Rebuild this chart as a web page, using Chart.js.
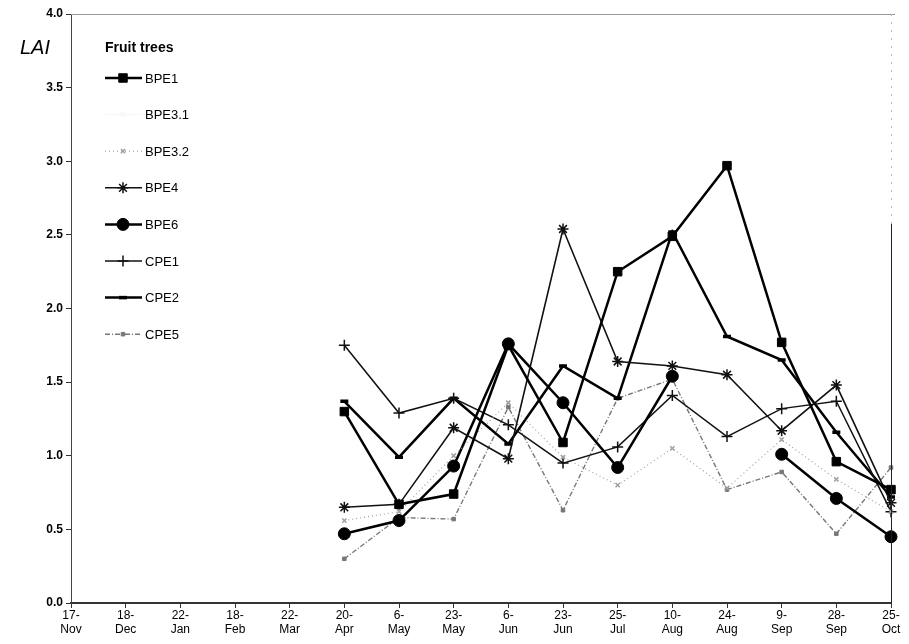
<!DOCTYPE html>
<html>
<head>
<meta charset="utf-8">
<script src="https://cdn.jsdelivr.net/npm/chart.js@4.4.1/dist/chart.umd.min.js"></script>
<style>
  body { margin: 0; background: #fff; }
  #wrap { width: 909px; height: 644px; }
</style>
</head>
<body>
<div id="wrap"><canvas id="lai" width="909" height="644"></canvas></div>
<script>
// sampling dates (x categories)
var dates = [
	["17-", "Nov"], ["18-", "Dec"], ["22-", "Jan"], ["18-", "Feb"], ["22-", "Mar"],
	["20-", "Apr"], ["6-", "May"], ["23-", "May"], ["6-", "Jun"], ["23-", "Jun"],
	["25-", "Jul"], ["10-", "Aug"], ["24-", "Aug"], ["9-", "Sep"], ["28-", "Sep"], ["25-", "Oct"]
];
// no measurements before 20-Apr
var noData = [null, null, null, null, null];

// LAI values, 20-Apr .. 25-Oct
var BPE1 = [1.30, 0.67, 0.74, 1.75, 1.09, 2.25, 2.49, 2.97, 1.77, 0.96, 0.77];
var BPE3_1 = [];
var BPE3_2 = [0.56, 0.62, 1.00, 1.36, 0.99, 0.80, 1.05, 0.78, 1.11, 0.84, 0.62];
var BPE4 = [0.65, 0.67, 1.19, 0.98, 2.54, 1.64, 1.61, 1.55, 1.17, 1.48, 0.68];
var BPE6 = [0.47, 0.56, 0.93, 1.76, 1.36, 0.92, 1.54, null, 1.01, 0.71, 0.45];
var CPE1 = [1.75, 1.29, 1.39, 1.21, 0.95, 1.06, 1.41, 1.13, 1.32, 1.37, 0.62];
var CPE2 = [1.37, 0.99, 1.39, 1.08, 1.61, 1.39, 2.52, 1.81, 1.65, 1.16, 0.72];
var CPE5 = [0.30, 0.58, 0.57, 1.33, 0.63, 1.39, 1.52, 0.77, 0.89, 0.47, 0.92];

var yTicks = [0, 0.5, 1, 1.5, 2, 2.5, 3, 3.5, 4];

function serie(label, vals, color, width, dash, pstyle, prad) {
	return {
		label: label,
		data: vals.length ? noData.concat(vals) : [],
		borderColor: color,
		backgroundColor: color,
		borderWidth: width,
		borderDash: dash,
		pointStyle: pstyle,
		pointRadius: prad,
		pointBorderWidth: pstyle == "circle" || pstyle == "rect" ? 1 : 1.5,
		tension: 0,
		spanGaps: false,
		fill: false
	};
}

var datasets = [
	serie("BPE1", BPE1, "#000", 2.5, [], "rect", 6),
	serie("BPE3.1", BPE3_1, "#f6f6f6", 1, [], "crossRot", 3),
	serie("BPE3.2", BPE3_2, "#a0a0a0", 1.2, [1, 3], "crossRot", 3),
	serie("BPE4", BPE4, "#111", 1.6, [], "star", 5.5),
	serie("BPE6", BPE6, "#000", 2.5, [], "circle", 6),
	serie("CPE1", CPE1, "#111", 1.5, [], "cross", 5.5),
	serie("CPE2", CPE2, "#000", 2.5, [], "line", 4),
	serie("CPE5", CPE5, "#777", 1.4, [5, 2, 1, 2], "rect", 2.5)
];
datasets[6].pointBorderWidth = 3.5;

// legend drawn inside plot, with line + marker samples
var legendBox = {
	id: "legendBox",
	afterDraw: function (chart) {
		var c = chart.ctx;
		c.save();
		c.fillStyle = "#000";
		c.font = "italic 20px 'Liberation Sans', Arial, sans-serif";
		c.textBaseline = "middle";
		c.fillText("LAI", 20, 48);
		c.font = "bold 14px 'Liberation Sans', Arial, sans-serif";
		c.fillText("Fruit trees", 105, 48);
		c.font = "13px 'Liberation Sans', Arial, sans-serif";
		chart.data.datasets.forEach(function (ds, i) {
			var y = 78 + i * 36.6;
			c.save();
			c.strokeStyle = ds.borderColor;
			c.lineWidth = ds.borderWidth;
			c.setLineDash(ds.borderDash || []);
			c.beginPath();
			c.moveTo(105, y);
			c.lineTo(142, y);
			c.stroke();
			c.setLineDash([]);
			c.fillStyle = ds.backgroundColor;
			c.strokeStyle = ds.borderColor;
			c.lineWidth = ds.pointBorderWidth;
			Chart.helpers.drawPoint(c, { pointStyle: ds.pointStyle, radius: ds.pointRadius, borderWidth: ds.pointBorderWidth, rotation: 0 }, 123, y);
			c.restore();
			c.fillStyle = "#000";
			c.fillText(ds.label, 145, y + 1);
		});
		// frame top and right
		var a = chart.chartArea;
		c.strokeStyle = "#999";
		c.lineWidth = 1;
		c.beginPath();
		c.moveTo(a.left, a.top + 0.5);
		c.lineTo(a.right + 4, a.top + 0.5);
		c.stroke();
		c.strokeStyle = "#222";
		c.beginPath();
		c.moveTo(a.right + 0.5, a.top + 210);
		c.lineTo(a.right + 0.5, a.bottom);
		c.stroke();
		c.strokeStyle = "#bbb";
		c.setLineDash([2, 6]);
		c.beginPath();
		c.moveTo(a.right + 0.5, a.top);
		c.lineTo(a.right + 0.5, a.top + 210);
		c.stroke();
		c.restore();
	}
};

new Chart(document.getElementById("lai"), {
	type: "line",
	data: { labels: dates, datasets: datasets },
	plugins: [legendBox],
	options: {
		responsive: false,
		devicePixelRatio: 1,
		animation: false,
		layout: { padding: { left: 0, right: 18, top: 14, bottom: 0 } },
		plugins: { legend: { display: false }, tooltip: { enabled: false } },
		scales: {
			x: {
				type: "category",
				offset: false,
				afterFit: function (s) { s.height = 41; },
				grid: { drawOnChartArea: false, tickLength: 5, color: "#333" },
				border: { color: "#333", width: 2 },
				ticks: {
					autoSkip: false, maxRotation: 0, minRotation: 0, padding: 0,
					color: "#000",
					font: { family: "'Liberation Sans', Arial, sans-serif", size: 12 }
				}
			},
			y: {
				min: 0, max: 4,
				afterFit: function (s) { s.width = 71; },
				afterBuildTicks: function (s) { s.ticks = yTicks.map(function (v) { return { value: v }; }); },
				grid: { drawOnChartArea: false, tickLength: 5, color: "#333" },
				border: { color: "#444", width: 1 },
				ticks: {
					padding: 3, color: "#000",
					font: { family: "'Liberation Sans', Arial, sans-serif", size: 12, weight: "bold" },
					callback: function (v) { return Number(v).toFixed(1); }
				}
			}
		}
	}
});
</script>
</body>
</html>
